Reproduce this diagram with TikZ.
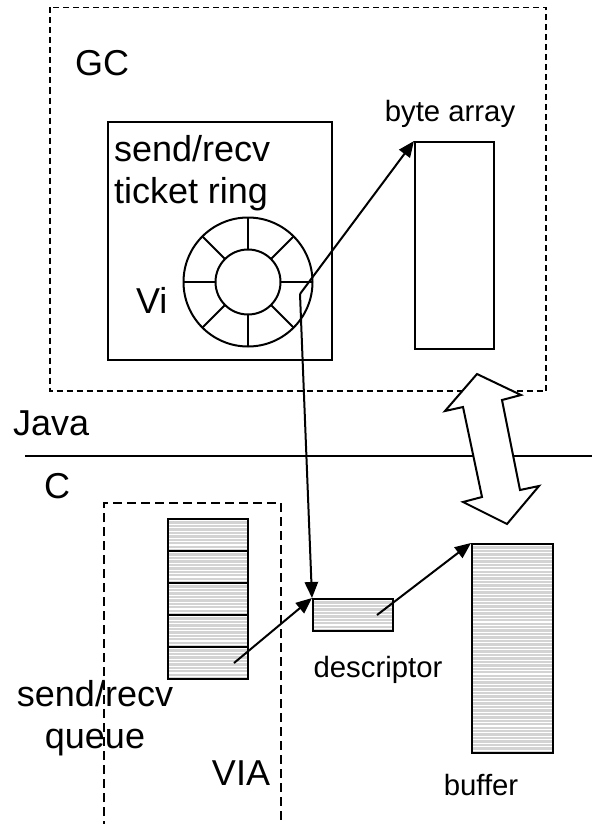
\documentclass[tikz,border=0pt]{standalone}
\usepackage{fontspec}
\setmainfont{Liberation Sans}
\usetikzlibrary{arrows.meta}
\definecolor{hatchgray}{RGB}{211,211,211}
\newcommand{\bigtxt}{\fontsize{27}{32}\selectfont}
\newcommand{\smalltxt}{\fontsize{22}{26}\selectfont}
\tikzset{every picture/.style={line width=1.5pt}}
\tikzset{
  arr/.style={-{Triangle[length=12pt,width=10pt]}},
  hatched/.style={draw, fill=hatchgray, path picture={
      \foreach \k in {0,...,85}
        \draw[white, line width=0.8pt] ([yshift=-\k*2.6pt-1.3pt]path picture bounding box.north west) -- ([yshift=-\k*2.6pt-1.3pt]path picture bounding box.north east);
    }},
  boxsize/.style 2 args={minimum width=#1*0.75pt, minimum height=#2*0.75pt, inner sep=0pt},
  lbl/.style={inner sep=0pt}
}

\begin{document}
\begin{tikzpicture}[x=0.75pt,y=0.75pt,yscale=-1,xscale=1]
    \useasboundingbox (0,0) rectangle (592,824);
    %Shape: Rectangle (GC heap)
    \draw[line width=1.1pt, dash pattern=on 4.5pt off 3pt] (50,7.5) rectangle (546,391);
    % Text Node
    \node[lbl, anchor=base west, font=\bigtxt] (gc) at (74,75) {GC};
    %Shape: Rectangle (ticket box)
    \node[draw, boxsize={224}{238}] (tbox) at (220,241) {};
    % Text Node
    \node[lbl, anchor=north west, align=left, font=\bigtxt] (ringlbl) at (113,134) {send/recv\\ticket ring};
    % Text Node
    \node[lbl, anchor=base west, font=\bigtxt] (vi) at (135,313) {Vi};
    %Shape: Ring
    \coordinate (ring) at (248,282);
    \draw (ring) circle (64.5) (ring) circle (32.5);
    \foreach \a in {0,45,...,315}
        \draw (ring) ++(\a:32.5) -- ++(\a:32);
    \coordinate (tk) at (300,294);
    %Shape: Rectangle (byte array)
    \node[draw, boxsize={79}{207}] (bytearr) at (454.5,245.5) {};
    % Text Node
    \node[lbl, anchor=base, font=\smalltxt] (bytelbl) at (450,121) {byte array};
    %Straight Lines (Java / C)
    \draw (25,456) -- (592,456);
    % Text Node
    \node[lbl, anchor=base west, font=\bigtxt] (java) at (12,435) {Java};
    % Text Node
    \node[lbl, anchor=base west, font=\bigtxt] (clbl) at (43,498) {C};
    %Shape: Double Arrow
    \draw[fill=white] (477,374) -- (521,395) -- (502,400) -- (520,490) -- (539,486) -- (507,524) -- (463,502) -- (482,497) -- (463,407) -- (445,411) -- cycle;
    %Shape: Rectangle (VIA)
    \draw[dash pattern=on 6.75pt off 3.75pt] (104,830) -- (104,503) -- (281,503) -- (281,830);
    % Text Node
    \node[lbl, anchor=base, font=\bigtxt] (via) at (241,785) {VIA};
    % Text Node
    \node[lbl, anchor=north, align=center, font=\bigtxt] (queuelbl) at (95,679) {send/recv\\queue};
    %Shape: Queue slots
    \foreach \i in {1,...,5}
        \node[hatched, boxsize={80}{32}] (q\i) at (208,{503+32*\i}) {};
    %Shape: Rectangle (descriptor)
    \node[hatched, boxsize={80}{32}] (desc) at (353,615) {};
    % Text Node
    \node[lbl, anchor=base, font=\smalltxt] (desclbl) at (378,677) {descriptor};
    %Shape: Rectangle (buffer)
    \node[hatched, boxsize={81}{209}] (buffer) at (512.5,648.5) {};
    % Text Node
    \node[lbl, anchor=base, font=\smalltxt] (buflbl) at (481,795) {buffer};
    %Straight Lines (connectors)
    \draw[arr] (tk) -- (bytearr.north west);
    \draw[arr] (tk) -- (desc.north west);
    \draw[arr] ([xshift=-11.25pt]q5.east) -- (desc.north west);
    \draw[arr] ([xshift=18pt]desc.center) -- (buffer.north west);
\end{tikzpicture}
\end{document}
